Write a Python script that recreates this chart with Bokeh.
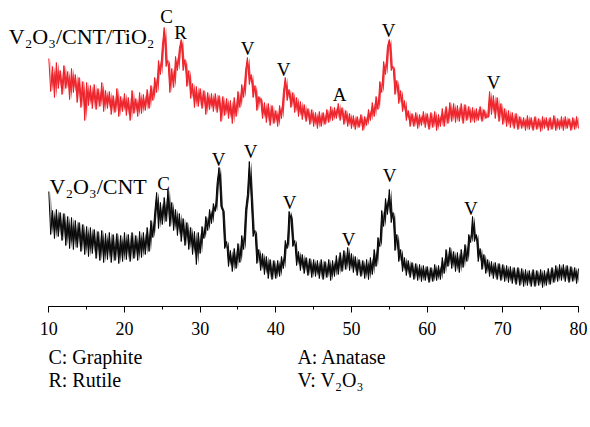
from bokeh.plotting import figure
from bokeh.models import Range1d, SingleIntervalTicker, Label, ColumnDataSource
from bokeh.core.properties import value
from bokeh.embed import file_html
from bokeh.resources import INLINE

# 2-theta sampling grid (degrees), 0.25 deg step from 10 to 80
two_theta = [10 + 0.25 * i for i in range(281)]

# V2O3/CNT/TiO2 (red), intensity in a.u. (stacked, offset included)
red_intensity = [
    248, 215, 240, 209, 244, 218, 236, 212,
    241, 218, 235, 207, 238, 214, 232, 204,
    229, 199, 225, 186, 224, 201, 221, 198,
    222, 197, 218, 200, 224, 195, 216, 198,
    215, 192, 211, 194, 218, 190, 210, 195,
    213, 191, 209, 186, 216, 193, 208, 190,
    214, 193, 212, 196, 217, 198, 221, 206,
    229, 214, 246, 232, 260, 279, 240, 246,
    214, 238, 219, 250, 236, 258, 267, 236,
    247, 220, 236, 208, 223, 199, 220, 200,
    218, 198, 216, 192, 214, 197, 213, 195,
    213, 194, 211, 185, 210, 191, 208, 188,
    206, 183, 209, 190, 215, 199, 222, 209,
    236, 249, 222, 232, 209, 221, 196, 210,
    206, 188, 204, 184, 203, 181, 201, 183,
    196, 180, 201, 188, 214, 229, 206, 217,
    199, 214, 194, 209, 190, 205, 187, 202,
    185, 198, 182, 197, 180, 194, 178, 195,
    180, 194, 182, 197, 184, 200, 186, 199,
    188, 203, 186, 199, 182, 196, 180, 193,
    178, 191, 177, 190, 179, 192, 176, 190,
    181, 197, 186, 204, 190, 210, 197, 225,
    214, 245, 232, 260, 267, 236, 240, 212,
    226, 203, 216, 195, 206, 186, 196, 180,
    193, 180, 194, 178, 192, 181, 195, 179,
    193, 177, 194, 179, 195, 176, 192, 180,
    198, 180, 200, 183, 204, 185, 203, 184,
    201, 185, 203, 183, 202, 186, 200, 184,
    199, 184, 198, 186, 200, 185, 197, 188,
    190, 215, 192, 211, 188, 209, 185, 203,
    182, 198, 180, 196, 179, 194, 178, 193,
    177, 190, 178, 189, 176, 191, 177, 189,
    176, 190, 177, 188, 175, 190, 178, 189,
    176, 189, 177, 191, 176, 188, 177, 190,
    176, 190, 178, 188, 176, 189, 177, 190,
    178,
]

# V2O3/CNT (black), intensity in a.u.
black_intensity = [
    115, 72, 96, 68, 97, 70, 94, 66,
    93, 61, 90, 58, 89, 57, 86, 59,
    84, 55, 82, 52, 80, 50, 79, 53,
    77, 48, 75, 46, 76, 44, 73, 47,
    74, 44, 72, 46, 73, 43, 71, 45,
    74, 47, 72, 45, 74, 48, 71, 46,
    75, 49, 74, 52, 79, 55, 86, 69,
    94, 114, 78, 104, 82, 109, 85, 117,
    80, 104, 76, 97, 71, 93, 65, 88,
    61, 84, 57, 79, 52, 75, 42, 74,
    53, 80, 68, 90, 76, 97, 83, 103,
    95, 124, 139, 100, 95, 58, 65, 40,
    56, 35, 58, 38, 63, 44, 71, 57,
    96, 112, 145, 108, 70, 76, 43, 57,
    36, 53, 32, 50, 28, 47, 27, 46,
    28, 46, 30, 50, 38, 66, 58, 95,
    88, 60, 66, 41, 55, 36, 52, 33,
    49, 31, 48, 29, 47, 30, 46, 28,
    47, 27, 45, 29, 47, 26, 46, 30,
    51, 32, 54, 35, 56, 37, 59, 36,
    53, 34, 50, 31, 47, 30, 46, 28,
    47, 27, 49, 32, 57, 40, 69, 60,
    96, 80, 108, 92, 117, 84, 94, 56,
    72, 45, 57, 35, 49, 31, 46, 29,
    44, 27, 43, 26, 42, 25, 41, 26,
    40, 24, 39, 25, 42, 26, 41, 27,
    49, 33, 57, 40, 59, 38, 55, 35,
    54, 34, 57, 39, 62, 45, 72, 64,
    90, 65, 72, 45, 58, 37, 52, 33,
    47, 30, 45, 28, 44, 27, 43, 26,
    42, 25, 41, 24, 40, 23, 39, 22,
    39, 21, 38, 20, 37, 21, 36, 20,
    37, 20, 36, 21, 37, 19, 36, 21,
    38, 22, 39, 24, 41, 25, 42, 26,
    42, 25, 41, 24, 40, 25, 39, 23,
    38,
]

# Phase markers (letter, 2-theta, height) for each pattern
red_marks = ["C", "R", "V", "V", "A", "V", "V"]
red_mark_theta = [25.56, 27.41, 36.26, 41.02, 48.42, 54.90, 68.78]
red_mark_h = [290, 274, 258, 237, 212, 276, 224]
black_marks = ["C", "V", "V", "V", "V", "V", "V"]
black_mark_theta = [25.16, 32.43, 36.66, 41.82, 49.61, 55.03, 65.77]
black_mark_h = [123, 147, 155, 104, 67, 131, 98]

sample_names = ["V\u2082O\u2083/CNT/TiO\u2082", "V\u2082O\u2083/CNT"]
legend_items = ["C: Graphite", "A: Anatase", "R: Rutile", "V: V\u2082O\u2083"]

SERIF = "Liberation Serif"
RED = "#ed1c24"

p = figure(frame_width=590, frame_height=392, output_backend="svg",
           toolbar_location=None,
           x_range=Range1d(3.617, 81.587), y_range=Range1d(-86, 306),
           y_axis_location=None, min_border=0, min_border_left=0,
           min_border_right=0, min_border_top=0, min_border_bottom=0)
p.outline_line_color = None
p.xgrid.visible = False
p.ygrid.visible = False
p.background_fill_color = "white"
p.border_fill_color = "white"

# dense noise band: fill between each sample and the previous one
for ys, col in ((red_intensity, RED), (black_intensity, "#000000")):
    p.varea(x=two_theta[1:], y1=ys[1:], y2=ys[:-1], fill_color=col,
            fill_alpha=0.9)
    p.line(two_theta, ys, color=col, line_width=1)

ax = p.xaxis[0]
ax.fixed_location = 0
ax.bounds = (10, 80)
ax.ticker = SingleIntervalTicker(interval=10, num_minor_ticks=2)
ax.axis_line_color = "black"
ax.axis_line_width = 1
ax.major_tick_in = 0
ax.major_tick_out = 6
ax.minor_tick_in = 0
ax.minor_tick_out = 3
ax.major_tick_line_color = "black"
ax.minor_tick_line_color = "black"
ax.major_label_text_font = SERIF
ax.major_label_text_font_size = "18px"
ax.major_label_text_color = "black"
ax.major_label_standoff = 9

src_r = ColumnDataSource(dict(x=red_mark_theta, y=red_mark_h, t=red_marks))
src_b = ColumnDataSource(dict(x=black_mark_theta, y=black_mark_h, t=black_marks))
for src in (src_r, src_b):
    p.text(x="x", y="y", text="t", source=src, text_font=value(SERIF),
           text_font_size="19px", text_align="center",
           text_baseline="alphabetic", text_color="black")

p.add_layout(Label(x=4.713, y=270, text=sample_names[0],
                   text_font=SERIF, text_font_size="22px",
                   text_baseline="alphabetic", text_color="black"))
p.add_layout(Label(x=10.1, y=120, text=sample_names[1],
                   text_font=SERIF, text_font_size="22px",
                   text_baseline="alphabetic", text_color="black"))

leg_x = [9.95, 42.85, 9.95, 42.85]
leg_y = [-50, -50, -73, -73]
for t, lx, ly in zip(legend_items, leg_x, leg_y):
    p.add_layout(Label(x=lx, y=ly, text=t, text_font=SERIF,
                       text_font_size="20px", text_baseline="alphabetic",
                       text_color="black"))

open("out.html", "w").write(file_html(p, INLINE))
